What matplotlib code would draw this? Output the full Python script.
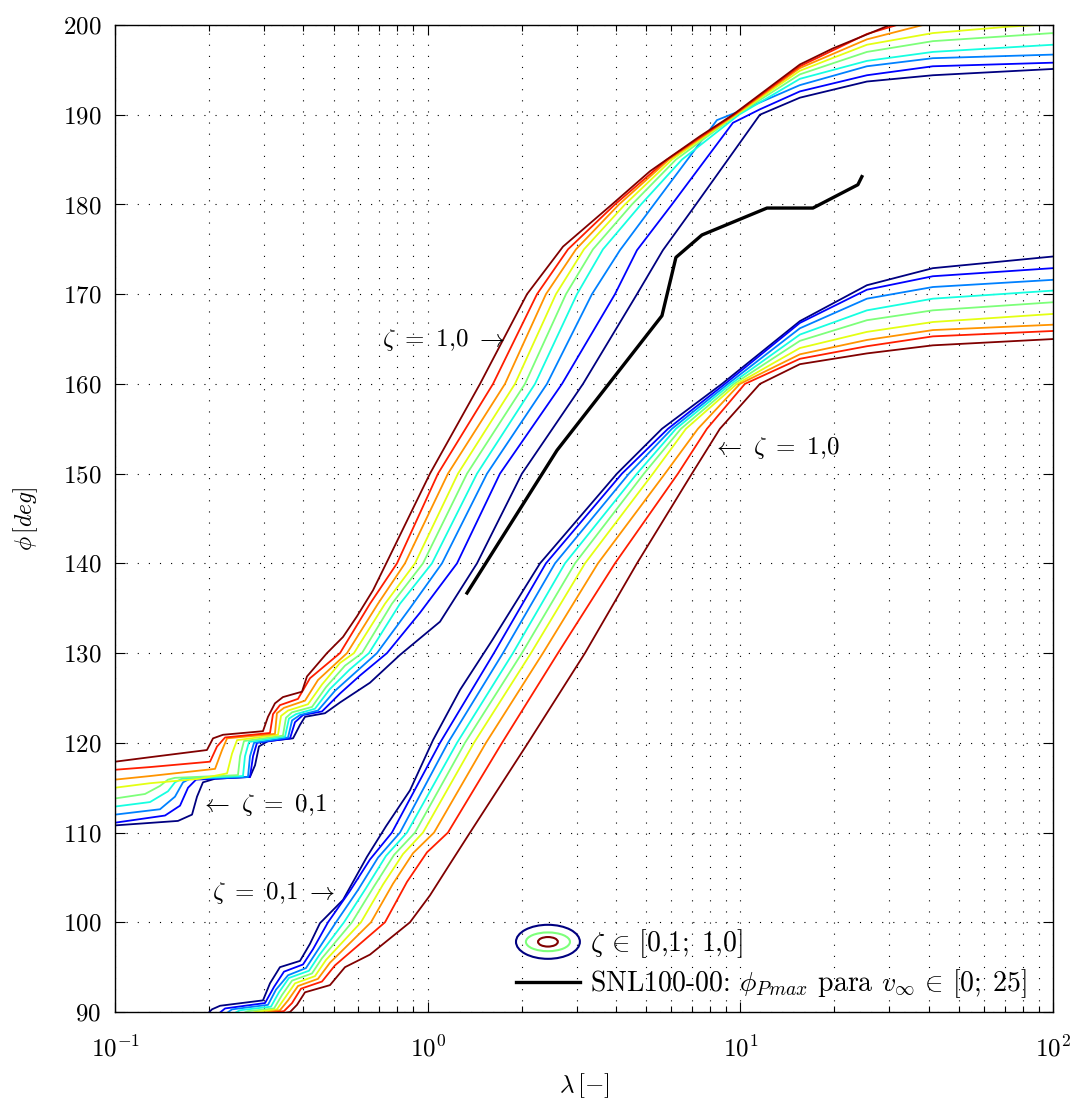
import matplotlib
matplotlib.use('Agg')
import matplotlib.pyplot as plt
from matplotlib.legend_handler import HandlerBase
from matplotlib.patches import Ellipse
from matplotlib.lines import Line2D
from matplotlib.ticker import FixedLocator, FuncFormatter, NullFormatter
import numpy as np

plt.rcParams['font.family'] = 'serif'
plt.rcParams['font.serif'] = ['cmr10', 'DejaVu Serif']
plt.rcParams['mathtext.fontset'] = 'cm'
plt.rcParams['axes.unicode_minus'] = False

# phase curves, upper family (lambda, phi), from zeta = 0,1 (first) to 1,0 (last)
upper_1 = [(0.100, 110.8), (0.159, 111.3), (0.1763, 112.0), (0.1829, 114.0), (0.1911, 115.6), (0.2089, 116.0),
           (0.2702, 116.2), (0.2804, 117.5), (0.2887, 119.6), (0.3085, 120.2), (0.3710, 120.5), (0.3905, 122.0),
           (0.4052, 122.9), (0.4693, 123.3), (0.5243, 124.5), (0.6538, 126.7), (0.8155, 129.8), (1.095, 133.5),
           (1.438, 140), (2.002, 150), (3.139, 160), (4.671, 170), (5.654, 174.9), (7.211, 180), (11.55, 190),
           (15.51, 191.9), (25.41, 193.7), (41.3, 194.4), (100, 195.1)]
upper_2 = [(0.100, 111.1), (0.1445, 111.9), (0.1614, 113.0), (0.1712, 115.0), (0.1816, 115.9), (0.2702, 116.2),
           (0.2763, 118.5), (0.2845, 120.0), (0.3629, 120.5), (0.3764, 122.3), (0.3992, 123.1), (0.4592, 123.5),
           (0.5243, 125.5), (0.6073, 127.5), (0.7410, 130), (0.9450, 134.5), (1.241, 140), (1.703, 150),
           (2.689, 160), (3.972, 170), (4.671, 174.9), (6.043, 180), (9.470, 189.1), (11.55, 190.6),
           (15.51, 192.6), (25.41, 194.4), (41.3, 195.4), (100, 195.8)]
upper_3 = [(0.100, 112.0), (0.1393, 112.6), (0.1555, 114.0), (0.1650, 115.6), (0.1738, 116.0), (0.2662, 116.2),
           (0.2702, 118.5), (0.2783, 120.0), (0.3576, 120.6), (0.3683, 122.5), (0.3905, 123.1), (0.4458, 123.6),
           (0.5053, 125.8), (0.5853, 127.8), (0.6883, 130), (0.8777, 135), (1.111, 140), (1.548, 150),
           (2.407, 160), (3.353, 170), (4.121, 174.9), (5.293, 180), (8.419, 189.4), (10.12, 190.5),
           (15.51, 193.3), (25.41, 195.4), (41.3, 196.3), (100, 196.7)]
upper_4 = [(0.100, 112.9), (0.1294, 113.4), (0.1477, 114.6), (0.1555, 115.6), (0.1638, 116.0), (0.2566, 116.3),
           (0.2604, 118.5), (0.2682, 120.1), (0.3498, 120.7), (0.3600, 122.7), (0.3792, 123.2), (0.4360, 123.8),
           (0.4870, 126.0), (0.5642, 128.2), (0.6490, 130), (0.8155, 135.5), (1.032, 140), (1.438, 150),
           (2.204, 160), (3.003, 170), (3.636, 175), (4.812, 180), (6.505, 185), (9.897, 190), (15.51, 194.0),
           (25.41, 196.0), (41.3, 197.0), (100, 197.8)]
upper_5 = [(0.100, 113.8), (0.1247, 114.3), (0.1393, 115.2), (0.1477, 115.9), (0.1555, 116.1), (0.2473, 116.4),
           (0.2511, 118.5), (0.2585, 120.2), (0.3444, 120.8), (0.3522, 122.8), (0.3683, 123.4), (0.4266, 124.0),
           (0.4728, 126.2), (0.5439, 128.6), (0.6164, 130), (0.7685, 135.5), (0.9661, 140), (1.336, 150),
           (2.047, 160), (2.769, 170), (3.378, 175), (4.502, 180), (6.224, 185), (9.752, 190), (15.51, 194.5),
           (25.41, 197.0), (41.3, 198.2), (100, 199.1)]
upper_6 = [(0.100, 115.0), (0.1294, 115.5), (0.1870, 116.0), (0.2282, 116.6), (0.2367, 118.8), (0.2456, 120.3),
           (0.3321, 120.9), (0.3396, 123.0), (0.3576, 123.6), (0.4142, 124.3), (0.4592, 126.5), (0.5243, 128.9),
           (0.5810, 130), (0.7302, 135.5), (0.9108, 140), (1.250, 150), (1.902, 160), (2.572, 170),
           (3.162, 175), (4.276, 180), (6.043, 185), (9.681, 190), (15.51, 194.9), (25.41, 197.8), (41.3, 199.1),
           (71.2, 199.8), (100, 200.1)]
upper_7 = [(0.100, 115.9), (0.1294, 116.3), (0.2089, 117.1), (0.2200, 119.2), (0.2282, 120.5), (0.3247, 121.0),
           (0.3295, 123.3), (0.3471, 123.9), (0.4052, 124.7), (0.4458, 127.0), (0.5521, 130), (0.6934, 135.5),
           (0.8460, 140), (1.161, 150), (1.767, 160), (2.389, 170), (2.981, 175), (4.091, 180), (5.912, 185),
           (9.610, 190), (15.51, 195.2), (25.41, 198.4), (40.41, 200.2), (100, 202.0)]
upper_8 = [(0.100, 117.0), (0.1294, 117.3), (0.2013, 117.9), (0.2120, 119.6), (0.2249, 120.6), (0.3131, 121.1),
           (0.3201, 123.2), (0.3369, 124.2), (0.3848, 124.9), (0.4203, 127.2), (0.5243, 130), (0.6538, 135.5),
           (0.7977, 140), (1.079, 150), (1.618, 160), (2.237, 170), (2.811, 175), (3.972, 180), (5.826, 185),
           (9.540, 190), (15.51, 195.4), (25.41, 199.0), (32.39, 200.1), (100, 203.5)]
upper_9 = [(0.100, 117.9), (0.1294, 118.4), (0.1968, 119.2), (0.2058, 120.5), (0.2215, 120.9), (0.2973, 121.3),
           (0.3085, 122.9), (0.3247, 124.4), (0.3444, 125.1), (0.3963, 125.7), (0.4111, 127.4), (0.4763, 130.0),
           (0.5361, 131.8), (0.5940, 134.1), (0.6685, 137.0), (0.7465, 140.4), (1.017, 150), (1.470, 160),
           (2.078, 170), (2.709, 175.3), (3.885, 180), (5.140, 183.7), (7.427, 187.6), (9.470, 190),
           (15.51, 195.6), (19.8, 197.4), (30.09, 200), (100, 205)]

# lower family, same zeta order
lower_1 = [(0.1940, 89.5), (0.2042, 90.3), (0.2168, 90.7), (0.2973, 91.3), (0.3131, 93.2), (0.3369, 95.0),
           (0.3905, 95.7), (0.4203, 97.6), (0.4523, 99.9), (0.5361, 102.5), (0.6395, 107.3), (0.7356, 110.7),
           (0.8777, 114.7), (1.040, 120.3), (1.269, 125.9), (1.606, 131.4), (2.287, 140), (4.031, 150),
           (5.615, 155), (8.732, 160), (15.51, 167.0), (25.41, 171.0), (41.3, 172.9), (100, 174.2)]
lower_2 = [(0.2089, 89.5), (0.2249, 90.4), (0.3018, 91.0), (0.3225, 92.8), (0.3471, 94.5), (0.3992, 95.3),
           (0.4297, 97.0), (0.4799, 100), (0.5642, 103.5), (0.6538, 107.0), (0.7685, 110), (1.095, 120),
           (1.629, 130), (2.389, 140), (4.182, 150), (5.869, 155), (8.927, 160), (15.51, 166.8), (25.41, 170.5),
           (41.3, 172.0), (100, 172.9)]
lower_3 = [(0.2200, 89.5), (0.2367, 90.3), (0.3085, 90.8), (0.3273, 92.5), (0.3576, 94.1), (0.4081, 94.9),
           (0.4393, 96.6), (0.5090, 100), (0.5985, 103.6), (0.6934, 107.2), (0.8155, 110), (1.161, 120),
           (1.741, 130), (2.554, 140), (4.404, 150), (6.043, 155), (9.127, 160), (15.51, 166.2), (25.41, 169.5),
           (41.3, 170.8), (100, 171.6)]
lower_4 = [(0.2299, 89.5), (0.2511, 90.2), (0.3154, 90.6), (0.3345, 92.2), (0.3600, 93.8), (0.4173, 94.6),
           (0.4491, 96.3), (0.5399, 100), (0.6348, 103.8), (0.7356, 107.4), (0.8586, 110), (1.241, 120),
           (1.874, 130), (2.749, 140), (4.671, 150), (6.224, 155), (9.330, 160), (15.51, 165.5), (25.41, 168.2),
           (41.3, 169.5), (100, 170.4)]
lower_5 = [(0.2421, 89.5), (0.2662, 90.1), (0.3225, 90.4), (0.3421, 91.9), (0.3683, 93.5), (0.4266, 94.3),
           (0.4592, 96.0), (0.5725, 100), (0.6735, 104.0), (0.7802, 107.5), (0.9108, 110), (1.316, 120),
           (2.002, 130), (2.959, 140), (4.917, 150), (6.457, 155), (9.540, 160), (15.51, 164.8), (25.41, 167.1),
           (41.3, 168.2), (100, 169.1)]
lower_6 = [(0.2547, 89.5), (0.2804, 90.0), (0.3295, 90.3), (0.3498, 91.6), (0.3764, 93.2), (0.4360, 94.0),
           (0.4728, 95.8), (0.6118, 100), (0.7194, 104.2), (0.8337, 107.6), (0.9661, 110), (1.406, 120),
           (2.140, 130), (3.185, 140), (5.254, 150), (6.700, 155), (9.752, 160), (15.51, 164.0), (25.41, 165.8),
           (41.3, 166.9), (100, 167.8)]
lower_7 = [(0.2662, 89.5), (0.2952, 89.9), (0.3369, 90.2), (0.3576, 91.3), (0.3848, 92.9), (0.4458, 93.7),
           (0.4870, 95.5), (0.6586, 100), (0.7745, 104.3), (0.8974, 107.7), (1.048, 110), (1.536, 120),
           (2.337, 130), (3.504, 140), (5.741, 150), (7.318, 155), (9.97, 160), (15.51, 163.3), (25.41, 164.9),
           (41.3, 166.0), (100, 166.6)]
lower_8 = [(0.2804, 89.5), (0.3131, 89.9), (0.3471, 90.1), (0.3683, 91.0), (0.3933, 92.6), (0.4592, 93.4),
           (0.5053, 95.2), (0.7302, 100), (0.8586, 104.5), (0.995, 107.8), (1.161, 110), (1.729, 120),
           (2.610, 130), (3.972, 140), (6.316, 150), (7.819, 155), (10.34, 160), (15.51, 162.8), (25.41, 164.2),
           (41.3, 165.3), (100, 165.9)]
lower_9 = [(0.2952, 89.5), (0.3629, 90.0), (0.3819, 90.8), (0.4052, 92.2), (0.4870, 93.0), (0.5439, 95.0),
           (0.6538, 96.4), (0.8777, 100), (1.017, 103), (1.178, 106.5), (1.366, 110), (2.094, 120),
           (3.185, 130), (4.671, 140), (7.001, 150), (8.604, 155), (11.55, 160), (15.51, 162.2), (25.41, 163.4),
           (41.3, 164.3), (100, 165.0)]

# SNL100-00 maximum-power phase, v_inf from 0 to 25
snl_lam = [1.336, 2.592, 5.615, 6.224, 7.538, 12.17, 17.07, 23.77, 24.48]
snl_phi = [136.7, 152.6, 167.6, 174.1, 176.6, 179.6, 179.6, 182.2, 183.1]

upper = [upper_1, upper_2, upper_3, upper_4, upper_5, upper_6, upper_7, upper_8, upper_9]
lower = [lower_1, lower_2, lower_3, lower_4, lower_5, lower_6, lower_7, lower_8, lower_9]
colors = plt.cm.jet(np.linspace(0, 1, len(upper)))

fig = plt.figure(figsize=(10.75, 11.01), dpi=100)
ax = fig.add_axes([0.107, 0.0808, 0.8725, 0.8965])

for fam in (upper, lower):
    for c, curve in zip(colors, fam):
        lam, phi = zip(*curve)
        ax.plot(lam, phi, color=c, lw=1.3)

ax.plot(snl_lam, snl_phi, color='k', lw=2.4)

ax.set_xscale('log')
ax.set_xlim(0.1, 100)
ax.set_ylim(90, 200)
ax.set_yticks(np.arange(90, 201, 10))
ax.yaxis.set_major_formatter(FuncFormatter(lambda v, p: r'$%d$' % v))
ax.xaxis.set_major_locator(FixedLocator([0.1, 1, 10, 100]))
ax.set_xticklabels([r'$10^{-1}$', r'$10^{0}$', r'$10^{1}$', r'$10^{2}$'])
ax.xaxis.set_minor_locator(FixedLocator([m * 10.0 ** k for k in range(-1, 2) for m in range(2, 10)]))
ax.xaxis.set_minor_formatter(NullFormatter())
ax.tick_params(which='both', direction='in', top=True, right=True, labelsize=18, width=0.8)
ax.tick_params(which='major', length=7)
ax.tick_params(which='minor', length=4)
ax.tick_params(axis='x', which='major', pad=17)
ax.tick_params(axis='y', which='major', pad=10)
ax.grid(True, which='major', linestyle=(0, (1, 9)), color='k', lw=0.8)
ax.xaxis.grid(True, which='minor', linestyle=(0, (1, 9)), color='k', lw=0.8)
for s in ax.spines.values():
    s.set_linewidth(1.0)

ax.set_ylabel(r'$\phi\,[deg]$', fontsize=17, labelpad=16)
ax.set_xlabel(r'$\lambda\,[-]$', fontsize=18, labelpad=7)

fs = 18
ax.text(1.767, 164.9, r'$\zeta\ =\ 1{,}0\ \rightarrow$', fontsize=fs, ha='right', va='center')
ax.text(0.187, 113.1, r'$\leftarrow\ \zeta\ =\ 0{,}1$', fontsize=fs, ha='left', va='center')
ax.text(0.505, 103.3, r'$\zeta\ =\ 0{,}1\ \rightarrow$', fontsize=fs, ha='right', va='center')
ax.text(8.115, 152.9, r'$\leftarrow\ \zeta\ =\ 1{,}0$', fontsize=fs, ha='left', va='center')


class RingsHandler(HandlerBase):
    # three nested ellipses standing for the whole zeta colour range
    def create_artists(self, legend, orig_handle, xdescent, ydescent, width, height, fontsize, trans):
        cx = 0.5 * width - xdescent
        cy = 0.5 * height - ydescent
        out = []
        for fw, fh, col in [(1.0, 1.0, colors[0]), (0.69, 0.55, colors[4]), (0.31, 0.28, colors[-1])]:
            out.append(Ellipse((cx, cy), width * fw, height * 1.75 * fh, fill=False,
                               edgecolor=col, lw=1.5, transform=trans))
        return out


class Rings:
    pass


rings = Rings()
snl_handle = Line2D([], [], color='k', lw=2.4)
ax.legend([rings, snl_handle],
          [r'$\zeta\,\in\,[0{,}1;\;1{,}0]$', r'SNL100-00: $\phi_{Pmax}$ para $v_\infty\,\in\,[0;\;25]$'],
          handler_map={Rings: RingsHandler()},
          loc='lower left', bbox_to_anchor=(0.4275, 0.012), frameon=False, fontsize=20,
          handlelength=2.3, handletextpad=0.35, borderaxespad=0, borderpad=0, labelspacing=0.25)

fig.savefig('out.png', dpi=100)
